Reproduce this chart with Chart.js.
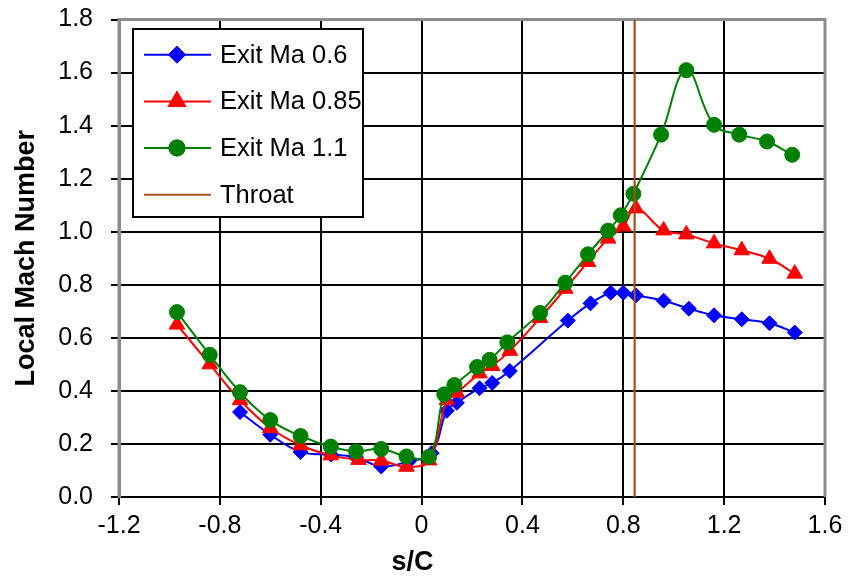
<!DOCTYPE html>
<html>
<head>
<meta charset="utf-8">
<script src="https://cdn.jsdelivr.net/npm/chart.js@4/dist/chart.umd.min.js"></script>
<style>
  html, body { margin: 0; padding: 0; background: #fff; }
  #wrap { width: 849px; height: 581px; }
</style>
</head>
<body>
<div id="wrap"><canvas id="grafico"></canvas></div>
<script>
// s/C positions and local Mach number for each exit Mach case
const sMa06 = [-0.72, -0.60, -0.48, -0.36, -0.26, -0.16, -0.05, 0.04, 0.10, 0.14, 0.23, 0.28, 0.35, 0.58, 0.67, 0.75, 0.80, 0.85, 0.96, 1.06, 1.16, 1.27, 1.38, 1.48];
const mMa06 = [0.32, 0.235, 0.17, 0.16, 0.15, 0.115, 0.135, 0.165, 0.325, 0.355, 0.41, 0.43, 0.475, 0.665, 0.73, 0.77, 0.77, 0.76, 0.74, 0.71, 0.685, 0.67, 0.655, 0.62];

const sMa085 = [-0.97, -0.84, -0.72, -0.60, -0.48, -0.36, -0.25, -0.16, -0.06, 0.03, 0.10, 0.14, 0.23, 0.28, 0.35, 0.47, 0.57, 0.66, 0.74, 0.80, 0.85, 0.96, 1.05, 1.16, 1.27, 1.38, 1.48];
const mMa085 = [0.65, 0.50, 0.365, 0.26, 0.195, 0.157, 0.14, 0.137, 0.114, 0.138, 0.365, 0.393, 0.466, 0.494, 0.551, 0.675, 0.785, 0.886, 0.974, 1.02, 1.088, 1.005, 0.99, 0.956, 0.93, 0.898, 0.842];

const sMa11 = [-0.97, -0.84, -0.72, -0.60, -0.48, -0.36, -0.26, -0.16, -0.06, 0.03, 0.09, 0.13, 0.22, 0.27, 0.34, 0.47, 0.57, 0.66, 0.74, 0.79, 0.84, 0.95, 1.05, 1.16, 1.26, 1.37, 1.47];
const mMa11 = [0.697, 0.536, 0.395, 0.29, 0.23, 0.19, 0.172, 0.181, 0.153, 0.152, 0.387, 0.422, 0.49, 0.517, 0.583, 0.694, 0.808, 0.915, 1.004, 1.062, 1.143, 1.366, 1.609, 1.403, 1.366, 1.34, 1.29];

const throatS = 0.845;
const seriesNames = ['Exit Ma 0.6', 'Exit Ma 0.85', 'Exit Ma 1.1', 'Throat'];

const xTicks = [-1.2, -0.8, -0.4, 0, 0.4, 0.8, 1.2, 1.6];
const yTicks = [0, 0.2, 0.4, 0.6, 0.8, 1.0, 1.2, 1.4, 1.6, 1.8];

const pares = (s, m) => s.map((v, i) => ({ x: v, y: m[i] }));
const FONTE = "'Liberation Sans', Arial, sans-serif";

// moldura cinza do grafico (esquerda, topo, direita)
const moldura = {
    id: 'moldura',
    beforeDatasetsDraw(chart) {
        const { ctx, chartArea: a } = chart;
        ctx.save();
        ctx.strokeStyle = '#8c8c8c';
        ctx.lineWidth = 3;
        ctx.beginPath();
        ctx.moveTo(a.left, a.bottom);
        ctx.lineTo(a.left, a.top);
        ctx.lineTo(a.right, a.top);
        ctx.lineTo(a.right, a.bottom);
        ctx.stroke();
        ctx.restore();
    }
};

// legenda dentro da area do grafico, com caixa
const legendaBox = {
    id: 'legendaBox',
    afterDraw(chart) {
        const ctx = chart.ctx;
        const box = { x: 133, y: 29, w: 230, h: 188 };
        ctx.save();
        ctx.fillStyle = '#fff';
        ctx.fillRect(box.x, box.y, box.w, box.h);
        ctx.strokeStyle = '#000';
        ctx.lineWidth = 2;
        ctx.strokeRect(box.x, box.y, box.w, box.h);
        ctx.font = '25.5px ' + FONTE;
        ctx.textBaseline = 'middle';
        ctx.textAlign = 'left';
        seriesNames.forEach((nome, i) => {
            const ds = chart.data.datasets[i];
            const y = 54.7 + i * 46.7;
            ctx.strokeStyle = ds.borderColor;
            ctx.lineWidth = 2;
            ctx.beginPath();
            ctx.moveTo(144, y);
            ctx.lineTo(211, y);
            ctx.stroke();
            if (ds.pointRadius > 0) {
                Chart.helpers.drawPoint(ctx, {
                    pointStyle: ds.pointStyle,
                    radius: ds.pointRadius,
                    rotation: 0,
                    borderWidth: 1
                }, 177, y);
                ctx.fillStyle = ds.backgroundColor;
                ctx.strokeStyle = ds.borderColor;
                ctx.fill();
                ctx.stroke();
            }
            ctx.fillStyle = '#000';
            ctx.fillText(nome, 220, y + 1);
        });
        ctx.restore();
    }
};

const grafico = new Chart(document.getElementById('grafico'), {
    type: 'scatter',
    data: {
        datasets: [
            {
                label: seriesNames[0],
                data: pares(sMa06, mMa06),
                showLine: true,
                borderColor: '#0000ff',
                backgroundColor: '#0000ff',
                borderWidth: 2,
                pointStyle: 'rectRot',
                pointRadius: 7.5,
                pointBorderWidth: 1,
                tension: 0.4,
                order: 3
            },
            {
                label: seriesNames[1],
                data: pares(sMa085, mMa085),
                showLine: true,
                borderColor: '#ff0000',
                backgroundColor: '#ff0000',
                borderWidth: 2,
                pointStyle: 'triangle',
                pointRadius: 9,
                pointBorderWidth: 1,
                tension: 0.4,
                order: 2
            },
            {
                label: seriesNames[2],
                data: pares(sMa11, mMa11),
                showLine: true,
                borderColor: '#008000',
                backgroundColor: '#008000',
                borderWidth: 2,
                pointStyle: 'circle',
                pointRadius: 7.5,
                pointBorderWidth: 1,
                tension: 0.4,
                order: 1
            },
            {
                label: seriesNames[3],
                data: [{ x: throatS, y: yTicks[0] }, { x: throatS, y: yTicks[yTicks.length - 1] }],
                showLine: true,
                borderColor: '#a84f1c',
                backgroundColor: '#a84f1c',
                borderWidth: 2.2,
                pointRadius: 0,
                order: 0
            }
        ]
    },
    options: {
        responsive: true,
        maintainAspectRatio: false,
        animation: false,
        layout: { padding: { top: 19.5, right: 24, left: 0, bottom: 0 } },
        plugins: {
            legend: { display: false },
            tooltip: { enabled: false },
            title: {
                display: true,
                text: 's/C',
                position: 'bottom',
                color: '#000',
                font: { family: FONTE, size: 27, weight: 'bold' },
                padding: { top: 0, bottom: 2 }
            }
        },
        scales: {
            x: {
                type: 'linear',
                min: -1.2,
                max: 1.6,
                afterBuildTicks: (ax) => { ax.ticks = xTicks.map(v => ({ value: v })); },
                afterFit: (ax) => { ax.height = 49.6; },
                grid: { color: '#000', lineWidth: 2, tickLength: 8, drawTicks: true },
                border: { color: '#000', width: 2 },
                ticks: {
                    color: '#000',
                    padding: 6,
                    maxRotation: 0,
                    font: { family: FONTE, size: 25 },
                    callback: (v) => v === 0 ? '0' : Number(v).toFixed(1)
                }
            },
            y: {
                type: 'linear',
                min: 0,
                max: 1.8,
                afterBuildTicks: (ax) => { ax.ticks = yTicks.map(v => ({ value: v })); },
                afterFit: (ax) => {
                    ax.width = 119;
                    ax.paddingTop = 10;
                    ax.paddingBottom = 10;
                },
                grid: { color: '#000', lineWidth: 2, tickLength: 8, drawTicks: true },
                border: { color: '#8c8c8c', width: 3 },
                title: {
                    display: true,
                    text: 'Local Mach Number',
                    color: '#000',
                    font: { family: FONTE, size: 27, weight: 'bold' },
                    padding: { top: 10, bottom: 0 }
                },
                ticks: {
                    color: '#000',
                    padding: 18,
                    font: { family: FONTE, size: 25 },
                    callback: (v) => Number(v).toFixed(1)
                }
            }
        }
    },
    plugins: [moldura, legendaBox]
});
</script>
</body>
</html>
